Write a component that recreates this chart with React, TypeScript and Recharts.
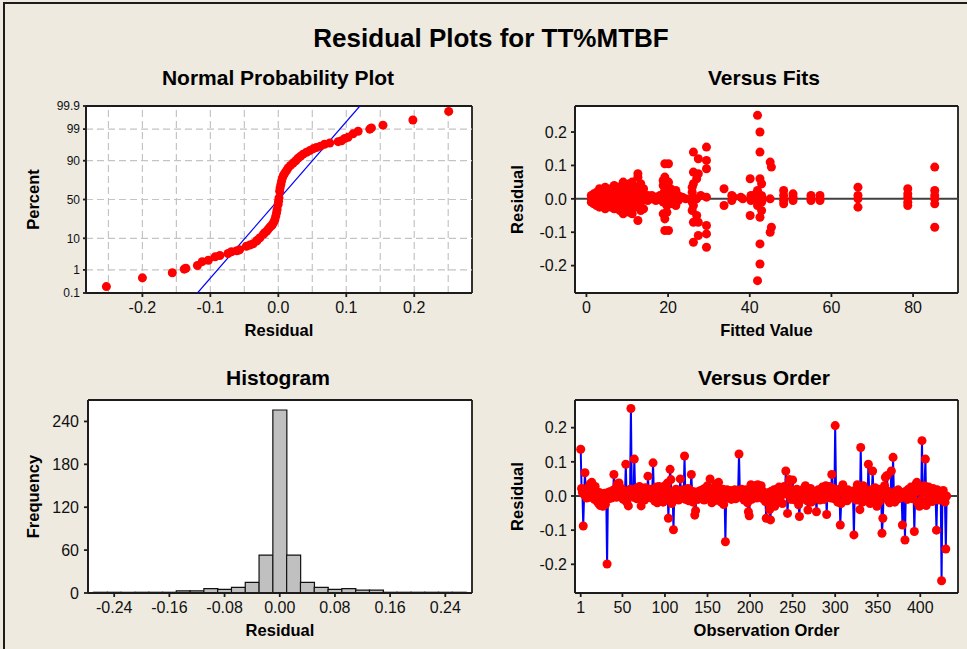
import React from 'react';
import {
  ScatterChart,
  Scatter,
  BarChart,
  Bar,
  XAxis,
  YAxis,
  ZAxis,
  ReferenceLine,
  CartesianGrid,
} from 'recharts';

// ---- Normal probability plot (sorted residual vs. percent)
const npResidual = [
  -0.253, -0.2, -0.156, -0.1385, -0.136, -0.119, -0.112, -0.103, -0.093, -0.086,
  -0.074, -0.069, -0.061, -0.057, -0.047, -0.042, -0.037, -0.032, -0.031, -0.027,
  -0.022, -0.02, -0.017, -0.015, -0.0125, -0.01, -0.0085, -0.0066, -0.005, -0.0037,
  -0.0026, -0.0018, -0.0003, 0.0003, 0.001, 0.002, 0.0026, 0.0037, 0.0047, 0.006,
  0.0076, 0.0096, 0.012, 0.0144, 0.018, 0.0218, 0.0257, 0.029, 0.0326, 0.0365,
  0.0415, 0.0463, 0.0512, 0.056, 0.062, 0.068, 0.0757, 0.088, 0.093, 0.0978,
  0.1026, 0.11, 0.1174, 0.1346, 0.137, 0.154, 0.198, 0.2507,
];
const npPercent = [
  0.2, 0.48, 0.77, 1.07, 1.16, 1.45, 2.0, 2.24, 2.9, 3.2,
  3.7, 4.2, 4.5, 4.8, 6.1, 6.6, 7.2, 8.5, 8.9, 10.3,
  12.5, 13.6, 14.8, 16.2, 18.1, 19.3, 20.6, 22.8, 25.5, 29.2,
  33, 37.1, 43.5, 47.8, 52, 60.8, 64.9, 68.9, 72.6, 76.1,
  78.8, 80.9, 83.0, 85.1, 87.0, 88.6, 90.0, 91.4, 92.3, 93.3,
  94.1, 94.7, 95.3, 95.7, 96.1, 96.6, 96.9, 97.2, 97.4, 97.8,
  98.0, 98.5, 98.8, 99.0, 99.1, 99.3, 99.57, 99.82,
];
const npFitResidual = [-0.119, 0.12];
const npFitPercent = [0.1, 99.9];
const npTickPercents = [0.1, 1, 10, 50, 90, 99, 99.9];
const npGridPercents = [1, 10, 50, 90, 99];
const npXTicks = [-0.2, -0.1, 0, 0.1, 0.2];
const npGridResiduals = [-0.25, -0.2, -0.15, -0.1, -0.05, 0, 0.05, 0.1, 0.15, 0.2, 0.25];

// ---- Versus fits
const fitsFitted = [
  1.2, 1.8, 2.5, 3.2, 3.9, 4.6, 5.3, 6.0, 6.8, 7.5, 8.2, 9.0, 9.7, 10.5, 11.2, 11.9, 12.6, 13.3, 14.0,
  15.0, 16.0, 17.0, 18.0, 18.8, 19.2, 19.7, 20.1, 20.6, 21.2, 21.9, 22.5, 23.5, 24.3,
  25.9, 26.2, 27.0, 27.4, 28.0, 29.4, 33.7, 35.6, 36.0, 37.8, 38.3, 40.1, 40.3,
  41.5, 41.9, 42.5, 42.9, 43.2, 45.0, 45.3, 48.3, 50.6, 55.0, 57.2, 66.5, 78.7, 85.3,
];
const fitsResidual = [
  [0.01, 0.0, -0.01],
  [0.015, -0.005, 0.005, -0.015],
  [0.02, 0.0, -0.02, 0.01],
  [0.03, 0.01, -0.01, -0.025],
  [0.025, 0.0, -0.015],
  [0.035, 0.015, -0.005, -0.03],
  [0.02, -0.02, 0.005],
  [0.03, 0.01, -0.01, -0.025],
  [0.04, 0.015, -0.005, -0.03],
  [0.025, -0.02, 0.0],
  [0.035, 0.01, -0.015, -0.035],
  [0.05, 0.02, 0.0, -0.02, -0.045],
  [0.03, -0.03, 0.01],
  [0.045, 0.015, -0.01, -0.04],
  [0.05, 0.02, -0.005, -0.03, -0.045],
  [0.035, 0.0, -0.025],
  [0.075, 0.065, 0.03, 0.005, -0.02, -0.065],
  [0.045, 0.015, -0.01, -0.035],
  [0.03, 0.0, -0.03],
  [0.01, -0.005],
  [0.01, 0.0],
  [0.005, -0.005],
  [0.01, 0.0],
  [0.055, 0.04, 0.015, -0.01, -0.045],
  [0.105, 0.065, -0.06, -0.095, 0.025],
  [0.045, 0.005, -0.02, -0.04],
  [0.105, 0.05, -0.095, 0.0],
  [0.03, 0.01, -0.015],
  [0.02, -0.01, 0.005],
  [0.025, 0.0, -0.02],
  [0.01, -0.005],
  [0.005],
  [0.0],
  [0.035, 0.02, -0.01, -0.035, 0.005],
  [0.14, 0.08, -0.07, -0.13, 0.045, -0.02],
  [0.06, 0.0, -0.05],
  [0.12, 0.075, -0.11, -0.07],
  [0.01],
  [0.155, 0.115, 0.09, 0.005, -0.08, -0.105, -0.145],
  [0.03, -0.02],
  [0.01, -0.005],
  [0.005],
  [0.005],
  [0.0],
  [0.06, -0.05],
  [0.01, -0.005],
  [0.0, 0.015],
  [0.25, 0.025, -0.02, -0.245],
  [0.2, 0.14, 0.06, -0.055, -0.135, -0.195],
  [0.045, 0.01, -0.01, -0.035],
  [0.0],
  [0.11, -0.1, 0.0],
  [0.095, -0.085],
  [0.025, 0.01, -0.005, -0.015],
  [0.015, 0.005, -0.005],
  [0.01, 0.0, -0.005],
  [0.01, 0.0, -0.005],
  [0.035, 0.01, 0.0, -0.025],
  [0.03, 0.015, 0.005, -0.01, -0.02],
  [0.095, 0.025, 0.01, 0.0, -0.015, -0.085],
];
const fitsXTicks = [0, 20, 40, 60, 80];
const residTicks = [-0.2, -0.1, 0, 0.1, 0.2];

// ---- Histogram
const histBins = [
  -0.26, -0.24, -0.22, -0.2, -0.18, -0.16, -0.14, -0.12, -0.1, -0.08, -0.06, -0.04, -0.02,
  0, 0.02, 0.04, 0.06, 0.08, 0.1, 0.12, 0.14, 0.16, 0.18, 0.2, 0.22, 0.24, 0.26,
];
const histCounts = [1, 1, 1, 1, 1, 1, 3, 3, 6, 5, 8, 15, 53, 256, 53, 15, 8, 5, 6, 4, 4, 1, 1, 1, 1, 1, 1];
const histXTicks = [-0.24, -0.16, -0.08, 0, 0.08, 0.16, 0.24];
const histYTicks = [0, 60, 120, 180, 240];

// ---- Versus order (residual by observation number)
const orderResidual = [
  0.137, 0.022, 0.01, -0.088, 0.004, 0.068, 0.012, -0.006, 0.018, 0.025,
  -0.004, 0.035, 0.015, 0.04, 0.022, 0.008, -0.01, 0.028, 0.012, -0.015,
  0.005, -0.022, 0.01, -0.028, -0.018, 0.006, -0.03, -0.012, 0.008, -0.025,
  0.002, -0.199, 0.01, -0.008, 0.012, 0.004, -0.006, 0.015, 0.006, 0.063,
  0.02, 0.008, -0.004, 0.035, 0.012, 0.038, -0.002, 0.01, 0.022, 0.006,
  -0.01, 0.014, 0.004, 0.093, -0.018, 0.008, -0.029, 0.012, 0.02, 0.256,
  0.015, 0.006, -0.004, 0.108, 0.01, 0.022, -0.008, 0.014, 0.004, 0.028,
  0.012, -0.029, 0.006, 0.018, 0.01, -0.012, 0.024, 0.008, -0.005, 0.058,
  0.014, 0.002, 0.02, -0.006, 0.012, 0.097, 0.004, -0.015, 0.016, 0.026,
  -0.02, 0.01, 0.028, 0.005, -0.012, 0.018, 0.006, -0.018, 0.012, 0.03,
  0.008, -0.01, 0.038, -0.065, 0.015, 0.078, 0.048, -0.022, 0.006, -0.099,
  0.012, -0.008, 0.02, 0.004, 0.016, -0.012, 0.01, 0.05, 0.002, -0.006,
  0.018, 0.008, 0.117, -0.01, 0.014, 0.004, 0.022, -0.014, 0.01, 0.016,
  0.063, 0.006, -0.018, 0.012, -0.056, -0.043, 0.008, 0.002, -0.01, 0.014,
  0.006, 0.016, -0.004, 0.01, 0.02, -0.012, 0.008, 0.024, 0.004, 0.03,
  -0.008, 0.014, 0.05, 0.006, -0.02, 0.018, 0.01, -0.014, 0.022, 0.035,
  0.008, -0.012, 0.04, 0.016, 0.004, -0.018, 0.012, 0.02, -0.025, 0.006,
  -0.134, 0.01, 0.018, -0.006, 0.012, 0.004, 0.016, -0.01, 0.008, 0.014,
  0.002, 0.018, -0.008, 0.012, 0.006, 0.016, 0.123, 0.01, -0.004, 0.02,
  0.008, 0.014, -0.012, 0.004, 0.018, 0.01, -0.02, -0.046, -0.058, 0.006,
  0.033, -0.01, 0.012, 0.02, 0.004, 0.03, 0.014, -0.006, 0.033, 0.008,
  0.018, 0.002, 0.03, 0.01, -0.008, 0.012, 0.004, -0.016, -0.065, 0.006,
  -0.02, 0.01, -0.04, -0.07, 0.014, -0.012, 0.004, 0.018, -0.03, 0.008,
  0.02, -0.014, 0.01, 0.026, -0.008, 0.016, 0.004, -0.022, 0.012, 0.028,
  0.006, 0.073, 0.014, -0.051, 0.01, 0.048, 0.022, -0.01, 0.018, 0.047,
  0.004, 0.016, -0.012, 0.01, 0.02, -0.006, -0.026, -0.06, 0.014, 0.008,
  -0.01, 0.018, 0.004, 0.024, 0.03, 0.01, -0.014, -0.041, 0.016, 0.006,
  0.022, -0.018, 0.01, 0.004, 0.014, -0.008, 0.012, -0.046, 0.006, 0.018,
  0.002, -0.012, 0.016, 0.008, 0.026, 0.004, -0.01, 0.02, 0.03, -0.054,
  0.012, 0.006, 0.028, 0.016, -0.006, 0.063, 0.01, 0.022, -0.008, 0.206,
  0.014, 0.004, -0.018, 0.01, 0.02, -0.085, -0.022, 0.016, 0.033, 0.006,
  -0.01, 0.012, 0.004, -0.014, 0.018, 0.008, 0.002, -0.006, 0.014, 0.01,
  -0.004, -0.114, 0.016, 0.006, -0.012, 0.033, 0.01, 0.004, -0.04, 0.142,
  0.006, -0.018, 0.03, 0.012, -0.008, 0.016, 0.004, -0.014, 0.093, 0.01,
  -0.022, 0.018, 0.006, 0.073, 0.012, -0.01, 0.024, 0.004, -0.03, 0.014,
  0.008, -0.016, 0.02, 0.002, -0.109, -0.065, 0.01, 0.03, 0.055, 0.016,
  0.06, -0.012, 0.012, -0.02, 0.006, 0.073, -0.008, 0.113, 0.004, -0.018,
  0.014, 0.006, -0.01, 0.018, 0.002, 0.012, -0.006, 0.008, -0.085, 0.01,
  0.004, -0.129, 0.014, 0.006, -0.01, 0.02, 0.008, 0.002, 0.026, 0.012,
  -0.008, 0.018, -0.104, 0.01, 0.035, 0.04, -0.02, 0.014, -0.03, 0.022,
  -0.012, 0.162, -0.025, 0.01, 0.03, 0.108, -0.028, 0.018, 0.004, 0.026,
  -0.01, 0.02, 0.006, -0.016, 0.022, 0.01, 0.002, -0.004, -0.1, 0.018,
  0.004, -0.012, 0.014, 0.01, -0.248, 0.006, 0.016, -0.01, -0.018, -0.155,
  0.0,
];
const orderXTicks = [1, 50, 100, 150, 200, 250, 300, 350, 400];

// inverse of the standard normal CDF (Acklam), used for the probability axis
function probit(p: number): number {
  const a = [-39.69683028665376, 220.9460984245205, -275.9285104469687, 138.357751867269, -30.66479806614716, 2.506628277459239];
  const b = [-54.47609879822406, 161.5858368580409, -155.6989798598866, 66.80131188771972, -13.28068155288572];
  const c = [-0.007784894002430293, -0.3223964580411365, -2.400758277161838, -2.549732539343734, 4.374664141464968, 2.938163982698783];
  const d = [0.007784695709041462, 0.3224671290700398, 2.445134137142996, 3.754408661907416];
  const lo = 0.02425;
  if (p < lo) {
    const q = Math.sqrt(-2 * Math.log(p));
    return (((((c[0] * q + c[1]) * q + c[2]) * q + c[3]) * q + c[4]) * q + c[5]) / ((((d[0] * q + d[1]) * q + d[2]) * q + d[3]) * q + 1);
  }
  if (p > 1 - lo) {
    const q = Math.sqrt(-2 * Math.log(1 - p));
    return -(((((c[0] * q + c[1]) * q + c[2]) * q + c[3]) * q + c[4]) * q + c[5]) / ((((d[0] * q + d[1]) * q + d[2]) * q + d[3]) * q + 1);
  }
  const q = p - 0.5;
  const r = q * q;
  return ((((((a[0] * r + a[1]) * r + a[2]) * r + a[3]) * r + a[4]) * r + a[5]) * q) / (((((b[0] * r + b[1]) * r + b[2]) * r + b[3]) * r + b[4]) * r + 1);
}

const npRows = npResidual.map((x, i) => ({ x, z: probit(npPercent[i] / 100) }));
const npFitRows = npFitResidual.map((x, i) => ({ x, z: probit(npFitPercent[i] / 100) }));
const npYTicks = npTickPercents.map((p) => probit(p / 100));
const fitsRows = fitsFitted.flatMap((f, i) => fitsResidual[i].map((r) => ({ f, r })));
const histRows = histBins.map((bin, i) => ({ bin, n: histCounts[i] }));
const orderRows = orderResidual.map((r, i) => ({ o: i + 1, r }));

const FONT = "'Liberation Sans', Arial, sans-serif";
const BG = '#EEEAE0';
const INK = '#1c1c1c';
const frame = { stroke: INK, strokeWidth: 1.8 };
const tick16 = { fontFamily: FONT, fontSize: 16, fill: '#111' };
const tick12 = { fontFamily: FONT, fontSize: 12, fill: '#111' };
const axisTitle = { fontFamily: FONT, fontSize: 16.5, fontWeight: 700, fill: '#000' };
const vTitle = { ...axisTitle, textAnchor: 'middle' as const };
const RED = '#FF0000';
const BLUE = '#0000FF';

const fmt1 = (v: number) => v.toFixed(1);
const fmtPct = (v: number) => {
  const i = npYTicks.findIndex((t) => Math.abs(t - v) < 1e-9);
  return i >= 0 ? String(npTickPercents[i]) : '';
};

// the plot box: grid lines only on the four edges of the plot area
const edgeX = ({ offset }: any) => (offset ? [offset.left, offset.left + offset.width] : []);
const edgeY = ({ offset }: any) => (offset ? [offset.top, offset.top + offset.height] : []);
const PlotBox = () => (
  <CartesianGrid
    xAxisId="b"
    yAxisId="l"
    fill="#FFFFFF"
    stroke={INK}
    strokeWidth={1.8}
    verticalCoordinatesGenerator={edgeX}
    horizontalCoordinatesGenerator={edgeY}
  />
);

const Title: React.FC<{ text: string; cx: number; baseline: number; size: number }> = ({ text, cx, baseline, size }) => (
  <div
    style={{
      position: 'absolute',
      left: cx - 250,
      width: 500,
      top: baseline - size * 0.8465,
      textAlign: 'center',
      fontFamily: FONT,
      fontWeight: 700,
      fontSize: size,
      lineHeight: `${size}px`,
      color: '#000',
      whiteSpace: 'nowrap',
    }}
  >
    {text}
  </div>
);

export default function App() {
  return (
    <div style={{ position: 'absolute', left: 0, top: 0, width: 967, height: 649, background: BG, overflow: 'hidden' }}>
      <div style={{ position: 'absolute', left: 3, top: 2, width: 1200, height: 900, borderLeft: `2px solid ${INK}`, borderTop: `2px solid ${INK}` }} />
      <Title text="Residual Plots for TT%MTBF" cx={491} baseline={47} size={26} />
      <Title text="Normal Probability Plot" cx={278} baseline={85} size={21} />
      <Title text="Versus Fits" cx={764} baseline={85} size={21} />
      <Title text="Histogram" cx={278} baseline={385} size={21} />
      <Title text="Versus Order" cx={764} baseline={385} size={21} />

      {/* Normal probability plot */}
      <div style={{ position: 'absolute', left: 0, top: 60 }}>
        <ScatterChart width={480} height={300} margin={{ top: 46, right: 8, bottom: 24, left: 0 }}>
          {PlotBox()}
          <XAxis
            xAxisId="b"
            type="number"
            dataKey="x"
            domain={[-0.283, 0.285]}
            allowDataOverflow
            ticks={npXTicks}
            interval={0}
            tickFormatter={fmt1}
            tick={tick16}
            tickSize={4}
            tickMargin={5}
            height={43}
            stroke={INK}
            axisLine={frame}
            tickLine={frame}
            label={{ value: 'Residual', position: 'insideBottom', offset: 0, style: axisTitle }}
          />
          <YAxis
            yAxisId="l"
            type="number"
            dataKey="z"
            domain={[probit(0.001), probit(0.999)]}
            allowDataOverflow
            ticks={npYTicks}
            interval={0}
            tickFormatter={fmtPct}
            tick={tick12}
            tickSize={3}
            tickMargin={3}
            width={86}
            stroke={INK}
            axisLine={frame}
            tickLine={frame}
            label={{ value: 'Percent', angle: -90, position: 'insideLeft', offset: 33.5, style: vTitle }}
          />
          <ZAxis range={[50, 50]} />
          {npGridResiduals.map((g) => (
            <ReferenceLine key={`gx${g}`} xAxisId="b" yAxisId="l" x={g} stroke="#C4C4C4" strokeWidth={1.2} strokeDasharray="7 4" />
          ))}
          {npGridPercents.map((p) => (
            <ReferenceLine key={`gy${p}`} xAxisId="b" yAxisId="l" y={probit(p / 100)} stroke="#C4C4C4" strokeWidth={1.2} strokeDasharray="7 4" />
          ))}
          <Scatter
            xAxisId="b"
            yAxisId="l"
            data={npFitRows}
            line={{ stroke: BLUE, strokeWidth: 1.2 }}
            shape={() => <g />}
            isAnimationActive={false}
          />
          <Scatter xAxisId="b" yAxisId="l" data={npRows} fill={RED} isAnimationActive={false} />
        </ScatterChart>
      </div>

      {/* Versus fits */}
      <div style={{ position: 'absolute', left: 480, top: 60 }}>
        <ScatterChart width={487} height={300} margin={{ top: 46, right: 9, bottom: 24, left: 0 }}>
          {PlotBox()}
          <XAxis
            xAxisId="b"
            type="number"
            dataKey="f"
            domain={[-2.8, 91]}
            allowDataOverflow
            ticks={fitsXTicks}
            interval={0}
            tick={tick16}
            tickSize={4}
            tickMargin={5}
            height={43}
            stroke={INK}
            axisLine={frame}
            tickLine={frame}
            label={{ value: 'Fitted Value', position: 'insideBottom', offset: 0, style: axisTitle }}
          />
          <YAxis
            yAxisId="l"
            type="number"
            dataKey="r"
            domain={[-0.282, 0.278]}
            allowDataOverflow
            ticks={residTicks}
            interval={0}
            tickFormatter={fmt1}
            tick={tick16}
            tickSize={4}
            tickMargin={4}
            width={95}
            stroke={INK}
            axisLine={frame}
            tickLine={frame}
            label={{ value: 'Residual', angle: -90, position: 'insideLeft', offset: 37, style: vTitle }}
          />
          <ZAxis range={[64, 64]} />
          <ReferenceLine xAxisId="b" yAxisId="l" y={0} stroke="#404040" strokeWidth={2} />
          <Scatter xAxisId="b" yAxisId="l" data={fitsRows} fill={RED} isAnimationActive={false} />
        </ScatterChart>
      </div>

      {/* Histogram */}
      <div style={{ position: 'absolute', left: 0, top: 360 }}>
        <BarChart width={480} height={289} data={histRows} margin={{ top: 40, right: 8, bottom: 13, left: 0 }} barCategoryGap={0}>
          {PlotBox()}
          <XAxis
            xAxisId="b"
            type="category"
            dataKey="bin"
            ticks={histXTicks}
            interval={0}
            padding={{ left: 5.5, right: 6 }}
            tickFormatter={(v: number) => Number(v).toFixed(2)}
            tick={tick16}
            tickSize={4}
            tickMargin={5}
            height={43}
            stroke={INK}
            axisLine={frame}
            tickLine={frame}
            label={{ value: 'Residual', position: 'insideBottom', offset: 0, style: axisTitle }}
          />
          <YAxis
            yAxisId="l"
            type="number"
            domain={[0, 270]}
            allowDataOverflow
            ticks={histYTicks}
            interval={0}
            tick={tick16}
            tickSize={4}
            tickMargin={5}
            width={88}
            stroke={INK}
            axisLine={frame}
            tickLine={frame}
            label={{ value: 'Frequency', angle: -90, position: 'insideLeft', offset: 33, style: vTitle }}
          />
          <Bar xAxisId="b" yAxisId="l" dataKey="n" fill="#C0C0C0" stroke="#111" strokeWidth={1.2} isAnimationActive={false} />
        </BarChart>
      </div>

      {/* Versus order */}
      <div style={{ position: 'absolute', left: 480, top: 360 }}>
        <ScatterChart width={487} height={289} margin={{ top: 40, right: 9, bottom: 13, left: 0 }}>
          {PlotBox()}
          <XAxis
            xAxisId="b"
            type="number"
            dataKey="o"
            domain={[-5.7, 444.3]}
            allowDataOverflow
            ticks={orderXTicks}
            interval={0}
            tick={tick16}
            tickSize={4}
            tickMargin={5}
            height={43}
            stroke={INK}
            axisLine={frame}
            tickLine={frame}
            label={{ value: 'Observation Order', position: 'insideBottom', offset: 0, style: axisTitle }}
          />
          <YAxis
            yAxisId="l"
            type="number"
            dataKey="r"
            domain={[-0.284, 0.281]}
            allowDataOverflow
            ticks={residTicks}
            interval={0}
            tickFormatter={fmt1}
            tick={tick16}
            tickSize={4}
            tickMargin={4}
            width={95}
            stroke={INK}
            axisLine={frame}
            tickLine={frame}
            label={{ value: 'Residual', angle: -90, position: 'insideLeft', offset: 37, style: vTitle }}
          />
          <ZAxis range={[58, 58]} />
          <ReferenceLine xAxisId="b" yAxisId="l" y={0} stroke="#404040" strokeWidth={2} />
          <Scatter
            xAxisId="b"
            yAxisId="l"
            data={orderRows}
            fill={RED}
            line={{ stroke: BLUE, strokeWidth: 2 }}
            isAnimationActive={false}
          />
        </ScatterChart>
      </div>
    </div>
  );
}
